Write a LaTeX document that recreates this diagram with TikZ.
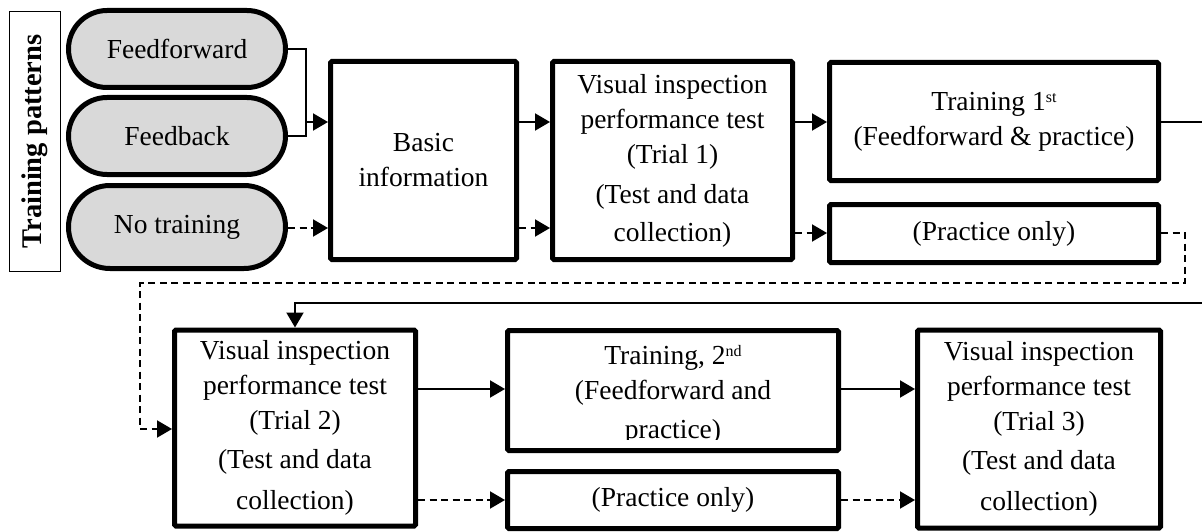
\documentclass[tikz,border=0pt]{standalone}
\usepackage{fontspec}
\setmainfont{Liberation Serif}
\usetikzlibrary{arrows.meta}
\newcommand\mainfs{\fontsize{27.5}{35}\selectfont}
\newcommand\supx[1]{\raisebox{8pt}{\fontsize{16}{16}\selectfont #1}}
\begin{document}
\begin{tikzpicture}[x=1pt,y=-1pt,
  box/.style={draw, line width=5pt, rounded corners=1.5pt, inner sep=0pt, align=center, font=\mainfs},
  pill/.style={draw, line width=5pt, fill=black!15, inner sep=0pt, font=\mainfs, minimum width=217pt},
  conn/.style={line width=2pt},
  arr/.style={conn, -{Triangle[length=15pt,width=17pt]}},
  dsh/.style={dash pattern=on 7pt off 4.5pt}]
\useasboundingbox (0,0) rectangle (1202,532);

% label
\node[draw, line width=1.4pt, rotate=90, minimum width=259.6pt, minimum height=50.6pt, inner sep=0pt,
      font=\fontsize{28.5}{33}\selectfont\bfseries] (lab) at (35,141.5) {Training patterns};

% pills
\node[pill, minimum height=77pt, rounded corners=38.5pt] (ff) at (177,49) {Feedforward};
\node[pill, minimum height=77pt, rounded corners=38.5pt] (fb) at (177,136) {Feedback};
\node[pill, minimum height=83pt, rounded corners=41.5pt] (nt) at (177,227) {No training};

% top row
\node[box, minimum width=186pt, minimum height=198pt] (basic) at (423.5,160.5) {Basic\\information};
\node[box, minimum width=240pt, minimum height=198pt] (vi1) at (672.5,160.5)
  {Visual inspection\\performance test\\(Trial 1)\\[5pt](Test and data\\[3pt]collection)};
\node[box, minimum width=329pt, minimum height=118pt] (t1) at (994,121.5)
  {Training 1\supx{st}\\(Feedforward \& practice)};
\node[box, minimum width=329pt, minimum height=58pt] (po1) at (994,233.5) {(Practice only)};

% bottom row
\node[box, minimum width=241pt, minimum height=196pt] (vi2) at (295,428)
  {Visual inspection\\performance test\\(Trial 2)\\[4pt](Test and data\\[6pt]collection)};
\node[box, minimum width=331pt, minimum height=120pt] (t2) at (673,390.5) {};
\begin{scope}
  \clip (505,328) rectangle (841,439);
  \node[font=\mainfs, align=center, anchor=north, inner sep=0pt] (t2txt) at (673,345)
    {Training, 2\supx{nd}\\(Feedforward and\\[4pt]practice)};
\end{scope}
\node[box, minimum width=331pt, minimum height=57pt] (po2) at (673,500) {(Practice only)};
\node[box, minimum width=243pt, minimum height=198pt] (vi3) at (1039,429)
  {Visual inspection\\performance test\\(Trial 3)\\[4pt](Test and data\\[6pt]collection)};

% rows
\coordinate (j) at (306,122);
\coordinate (r1) at (0,122);
\coordinate (r2) at (0,228);
\coordinate (r3) at (0,233);
\coordinate (r4) at (0,389);
\coordinate (r5) at (0,500);

% connectors
\draw[conn] (ff.east) -| (j);
\draw[conn] (fb.east) -| (j);
\draw[arr] (j) -- (j -| basic.west);
\draw[arr, dsh] (nt.east |- r2) -- (basic.west |- r2);
\draw[arr] (basic.east |- r1) -- (vi1.west |- r1);
\draw[arr, dsh] (basic.east |- r2) -- (vi1.west |- r2);
\draw[arr] (vi1.east |- r1) -- (t1.west |- r1);
\draw[arr, dsh] (vi1.east |- r3) -- (po1.west |- r3);

\coordinate (e1) at (1215,122);
\coordinate (e2) at (1215,303);
\draw[arr] (t1.east |- r1) -- (e1) -- (e2) -- (e2 -| vi2.north) -- (vi2.north);

\coordinate (d1) at (1185,233);
\coordinate (d2) at (1185,283);
\coordinate (d3) at (140,283);
\coordinate (d4) at (140,429);
\draw[arr, dsh] (po1.east |- r3) -- (d1) -- (d2) -- (d3) -- (d4) -- (d4 -| vi2.west);

\draw[arr] (vi2.east |- r4) -- (t2.west |- r4);
\draw[arr, dsh] (vi2.east |- r5) -- (po2.west |- r5);
\draw[arr] (t2.east |- r4) -- (vi3.west |- r4);
\draw[arr, dsh] (po2.east |- r5) -- (vi3.west |- r5);
\end{tikzpicture}
\end{document}
